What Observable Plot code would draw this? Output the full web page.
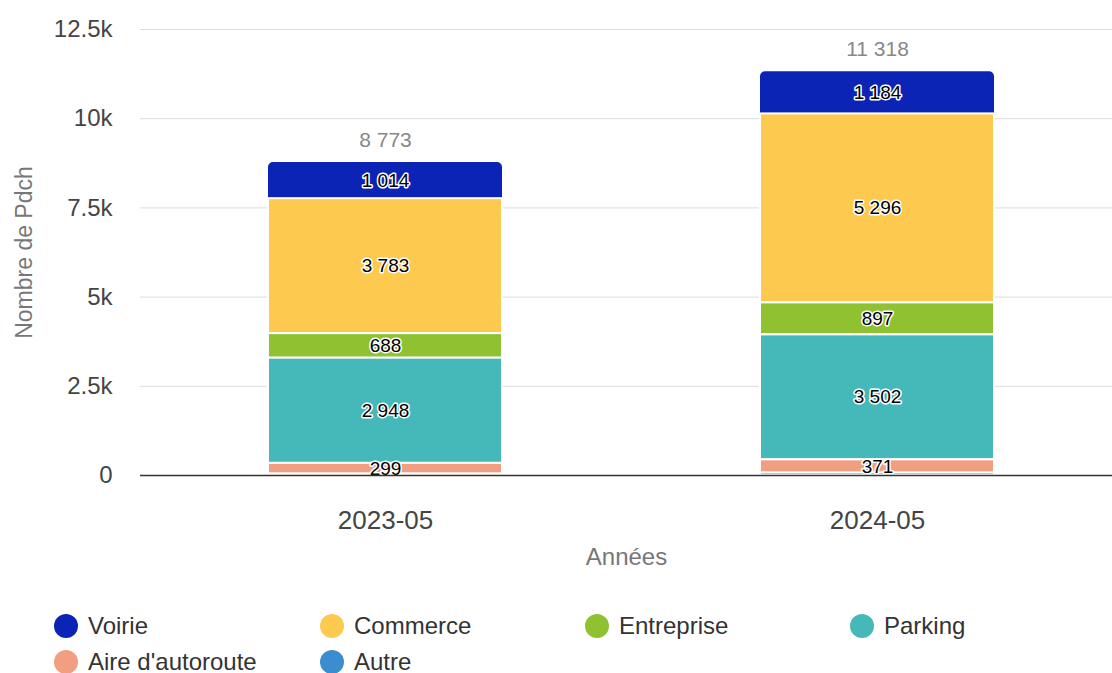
<!DOCTYPE html>
<html><head><meta charset="utf-8">
<script src="https://cdn.jsdelivr.net/npm/d3@7"></script>
<script src="https://cdn.jsdelivr.net/npm/@observablehq/plot@0.6"></script>
<style>
body{margin:0;background:#fff;overflow:hidden;font-family:"Liberation Sans",Arial,sans-serif;}
#legend{display:grid;grid-template-columns:266px 265px 265px 265px;padding-left:54px;margin-top:22px;row-gap:8px;}
.item{display:flex;align-items:center;font-size:24px;color:#333;height:28px;}
.dot{width:24px;height:24px;border-radius:50%;margin-right:10px;flex:none;}
</style></head><body>
<div id="chart"></div>
<div id="legend"></div>
<script>
const years = ["2023-05", "2024-05"];
const categories = ["Voirie", "Commerce", "Entreprise", "Parking", "Aire d'autoroute", "Autre"];
const colors = ["#0b24b5", "#fec94f", "#8fc131", "#45b9b9", "#f29f81", "#3c8dcf"];
const voirie = [1014, 1184];
const commerce = [3783, 5296];
const entreprise = [688, 897];
const parking = [2948, 3502];
const aire = [299, 371];
const autre = [41, 68];
const totals = [8773, 11318];
const yTicks = [0, 2500, 5000, 7500, 10000, 12500];

const series = [voirie, commerce, entreprise, parking, aire, autre];
const rows = [];
categories.forEach((c, i) => years.forEach((y, j) => rows.push({year: y, cat: c, v: series[i][j]})));
const totalRows = years.map((y, j) => ({year: y, total: totals[j], voirie: voirie[j]}));
const stackOrder = categories.slice().reverse();
const lowerRows = rows.filter(d => d.cat !== "Voirie");

const fmtSp = v => d3.format(",d")(v).replace(/,/g, " ");
const FONT = "'Liberation Sans', Arial, sans-serif";

const chart = Plot.plot({
  width: 1112,
  height: 590,
  marginLeft: 140,
  marginRight: 0,
  marginTop: 29,
  marginBottom: 115,
  style: {fontFamily: FONT, background: "#fff"},
  x: {domain: years, range: [139, 1123], paddingInner: 0.524, paddingOuter: 0.262, label: null},
  y: {domain: [0, 12500], label: null},
  color: {domain: categories, range: colors},
  marks: [
    Plot.gridY(yTicks, {stroke: "#dcdcdc", strokeOpacity: 1}),
    Plot.axisY(yTicks, {tickSize: 0, tickPadding: 28, fontSize: 24, fill: "#444", tickFormat: d => d === 0 ? "0" : (d / 1000) + "k", label: null}),
    Plot.text(["Nombre de Pdch"], {frameAnchor: "left", textAnchor: "middle", dx: -116, rotate: -90, fontSize: 23, fill: "#777"}),
    Plot.axisX({tickSize: 0, tickPadding: 35, fontSize: 26, fill: "#444", label: null}),
    Plot.text(["Années"], {frameAnchor: "bottom", dy: 89, fontSize: 24, fill: "#777"}),
    Plot.barY(totalRows, {x: "year", y1: d => d.total - d.voirie - 300, y2: "total", fill: colors[0], rx: 5}),
    Plot.barY(lowerRows, Plot.stackY({x: "year", y: "v", fill: "cat", order: stackOrder, stroke: "white", strokeWidth: 2})),
    Plot.text(rows, Plot.stackY({x: "year", y: "v", z: "cat", order: stackOrder, text: d => d.cat === "Autre" ? "" : fmtSp(d.v), fontSize: 19, fill: "black", stroke: "white", strokeWidth: 3})),
    Plot.text(totalRows, {x: "year", y: "total", text: d => fmtSp(d.total), dy: -22, fontSize: 21, fill: "#888"}),
    Plot.ruleY([0], {stroke: "#333", strokeWidth: 1.5})
  ]
});
document.getElementById("chart").appendChild(chart);

const legend = document.getElementById("legend");
categories.forEach((c, i) => {
  const el = document.createElement("div");
  el.className = "item";
  el.innerHTML = `<span class="dot" style="background:${colors[i]}"></span><span>${c}</span>`;
  legend.appendChild(el);
});
</script>
</body></html>
